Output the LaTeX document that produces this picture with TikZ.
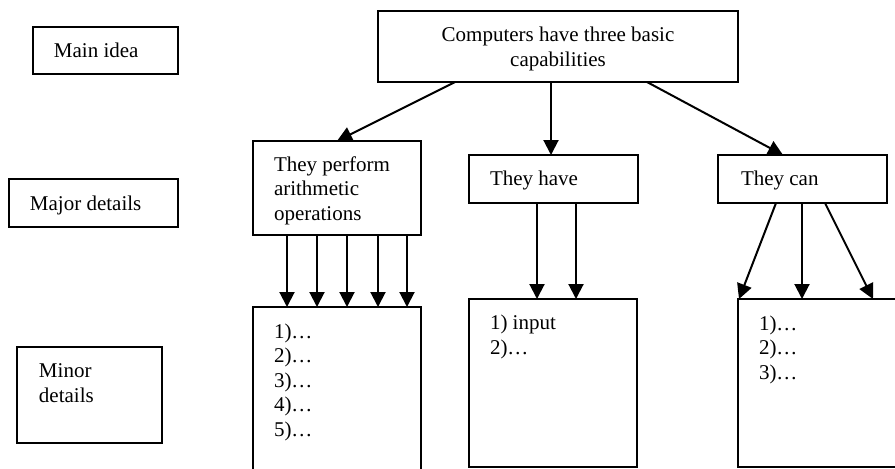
\documentclass[tikz,border=0pt]{standalone}
\usepackage{fontspec}
\setmainfont{Liberation Serif}
\usetikzlibrary{arrows.meta,calc}

\tikzset{
  box/.style={draw, line width=0.75pt, inner sep=0pt, outer sep=0pt},
  txt/.style={inner sep=0pt, outer sep=0pt, anchor=base west, align=left,
              font=\fontsize{10.5}{12.25}\selectfont},
  arr/.style={-{Triangle[length=7.5pt,width=7.5pt]}, line width=1pt},
}

\begin{document}
\begin{tikzpicture}[x=0.5pt, y=-0.5pt]
  \useasboundingbox (0,0) rectangle (895,468);

  % level labels on the left (text nodes sit on the baseline of their last line)
  \node[box, minimum width=72.5pt, minimum height=23.5pt] (lmain)  at (105.5,50.5) {};
  \node[box, minimum width=84.5pt, minimum height=24pt]   (lmajor) at (93.5,203)  {};
  \node[box, minimum width=72.5pt, minimum height=48pt]   (lminor) at (89.5,395)  {};
  \node[txt] (tmain)  at (54,57)  {Main idea};
  \node[txt] (tmajor) at (30,210) {Major details};
  \node[txt] (tminor) at (39,402) {Minor\\details};

  % main idea
  \node[box, minimum width=180pt, minimum height=35.5pt] (top) at (558,46.5) {};
  \node[txt, anchor=base, align=center] (ttop) at (558,66)
    {Computers have three basic\\capabilities};

  % major details
  \node[box, minimum width=84pt,   minimum height=47pt] (perf) at (337,188)   {};
  \node[box, minimum width=84.5pt, minimum height=24pt] (have) at (553.5,179) {};
  \node[box, minimum width=84.5pt, minimum height=24pt] (can)  at (802.5,179) {};
  \node[txt] (tperf) at (274,220) {They perform\\arithmetic\\operations};
  \node[txt] (thave) at (490,185) {They have};
  \node[txt] (tcan)  at (741,185) {They can};

  % minor details
  \node[box, minimum width=84pt, minimum height=96pt] (minA) at (337,403) {};
  \node[box, minimum width=84pt, minimum height=84pt] (minB) at (553,383) {};
  \node[box, minimum width=84pt, minimum height=84pt] (minC) at (822,383) {};
  \node[txt] (tminA) at (274,436) {1)…\\2)…\\3)…\\4)…\\5)…};
  \node[txt] (tminB) at (490,354) {1) input\\2)…};
  \node[txt] (tminC) at (759,379) {1)…\\2)…\\3)…};

  % main idea to major details
  \draw[arr] ($(top.south west)+(77,0)$)  -- ($(perf.north west)+(84,0)$);
  \draw[arr] ($(top.south west)+(173,0)$) -- ($(have.north west)+(82,0)$);
  \draw[arr] ($(top.south west)+(269,0)$) -- ($(can.north west)+(65,0)$);

  % major details to minor details
  \foreach \dx in {34,64,94,125,154}
    \draw[arr] ($(perf.south west)+(\dx,0)$) -- ($(minA.north west)+(\dx,0)$);
  \foreach \dx in {68,107}
    \draw[arr] ($(have.south west)+(\dx,0)$) -- ($(minB.north west)+(\dx,0)$);
  \draw[arr] ($(can.south west)+(58,0)$)  -- ($(minC.north west)+(1,0)$);
  \draw[arr] ($(can.south west)+(84,0)$)  -- ($(minC.north west)+(64,0)$);
  \draw[arr] ($(can.south west)+(107,0)$) -- ($(minC.north west)+(135,0)$);
\end{tikzpicture}
\end{document}
